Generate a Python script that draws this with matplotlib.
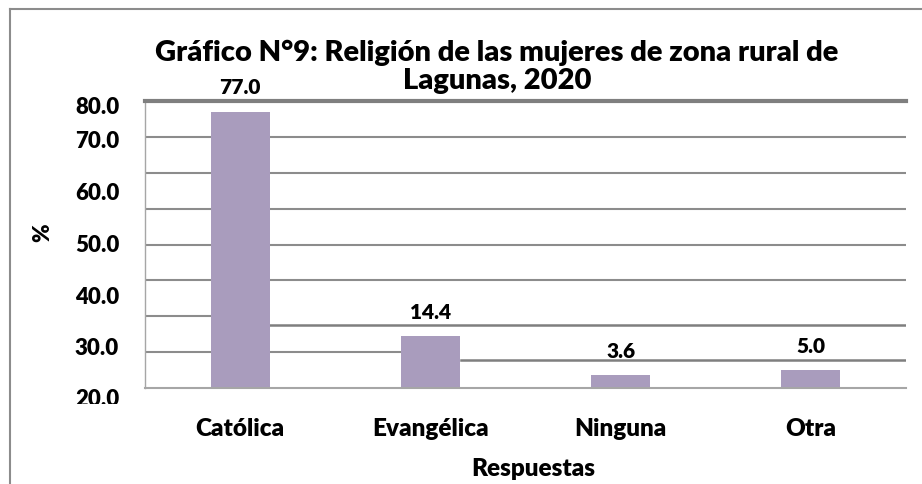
import matplotlib

matplotlib.use("Agg")
from matplotlib import pyplot as plt
from matplotlib.lines import Line2D
from matplotlib.transforms import Bbox, TransformedBbox, blended_transform_factory


categories = ["Católica", "Evangélica", "Ninguna", "Otra"]
percent = [77.0, 14.4, 3.6, 5.0]

# the y tick labels sit off their gridlines in the original
ytick_labels = ["80.0", "70.0", "60.0", "50.0", "40.0", "30.0", "20.0"]
ytick_pos = [78.6, 68.9, 54.6, 40.1, 25.6, 11.4, -3.0]

title = "Gráfico N°9: Religión de las mujeres de zona rural de\nLagunas, 2020"

plt.rcParams["font.family"] = ["Lato", "DejaVu Sans"]
W = 800  # Lato "bold" resolves to semibold here, heavy is closer to the source

BAR = "#a99cbd"
GRID = "#8c8c8c"


def draw_grid(ax):
    for y in [30, 40, 50, 60, 70]:
        ax.axhline(y, color=GRID, lw=1.5, zorder=1)
    # broken segments, copied from the source render
    ax.axhline(20, xmin=0, xmax=0.085, color=GRID, lw=1.5, zorder=1)
    ax.axhline(10, xmin=0, xmax=0.335, color=GRID, lw=1.5, zorder=1)
    ax.axhline(17.6, xmin=0.163, xmax=1, color="#7f7f7f", lw=1.8, zorder=1)
    ax.axhline(7.8, xmin=0.415, xmax=1, color="#7f7f7f", lw=1.8, zorder=1)


def main():
    fig = plt.figure(figsize=(9.22, 4.85), dpi=100)
    ax = fig.add_axes([145 / 922, 96 / 485, 761 / 922, 287 / 485])

    xs = range(len(categories))
    bars = ax.bar(xs, percent, width=0.31, color=BAR, zorder=2)
    ax.bar_label(bars, fmt="%.1f", padding=11, fontsize=15, fontweight=W)

    ax.set_xlim(-0.5, len(categories) - 0.5)
    ax.set_ylim(0, 80)
    ax.set_xticks(list(xs), categories, fontsize=17.5, fontweight=W)
    ax.tick_params(axis="x", length=0, pad=21)
    ax.set_yticks([])

    draw_grid(ax)

    ax.spines["right"].set_visible(False)
    ax.spines["top"].set_color("#7f7f7f")
    ax.spines["top"].set_linewidth(3)
    ax.spines["left"].set_color("#a6a6a6")
    ax.spines["left"].set_linewidth(1)
    ax.spines["bottom"].set_color("#a6a6a6")
    ax.spines["bottom"].set_linewidth(1.5)

    trans = blended_transform_factory(ax.transAxes, ax.transData)
    clip = TransformedBbox(Bbox([[0, 80 / 485], [1, 1]]), fig.transFigure)
    for pos, lab in zip(ytick_pos, ytick_labels):
        t = ax.text(-0.034, pos, lab, transform=trans, ha="right", va="center",
                    fontsize=16, fontweight=W, clip_on=True)
        t.set_clip_box(clip)

    fig.text(43 / 922, 1 - 233 / 485, "%", rotation=90, ha="center", va="center",
             fontsize=16, fontweight=W)
    fig.text(533 / 922, 1 - 469 / 485, "Respuestas", ha="center", va="center",
             fontsize=17.5, fontweight=W)
    fig.text(497 / 922, 1 - 67 / 485, title, ha="center", va="center",
             fontsize=21, fontweight=W, linespacing=1.12)

    # outer chart frame
    fig.add_artist(Line2D([10 / 922, 10 / 922], [0, 1 - 10 / 485],
                          transform=fig.transFigure, color=GRID, lw=1.5))
    fig.add_artist(Line2D([10 / 922, 1], [1 - 10 / 485, 1 - 10 / 485],
                          transform=fig.transFigure, color=GRID, lw=1.5))

    fig.savefig("out.png", dpi=100)


if __name__ == "__main__":
    main()
